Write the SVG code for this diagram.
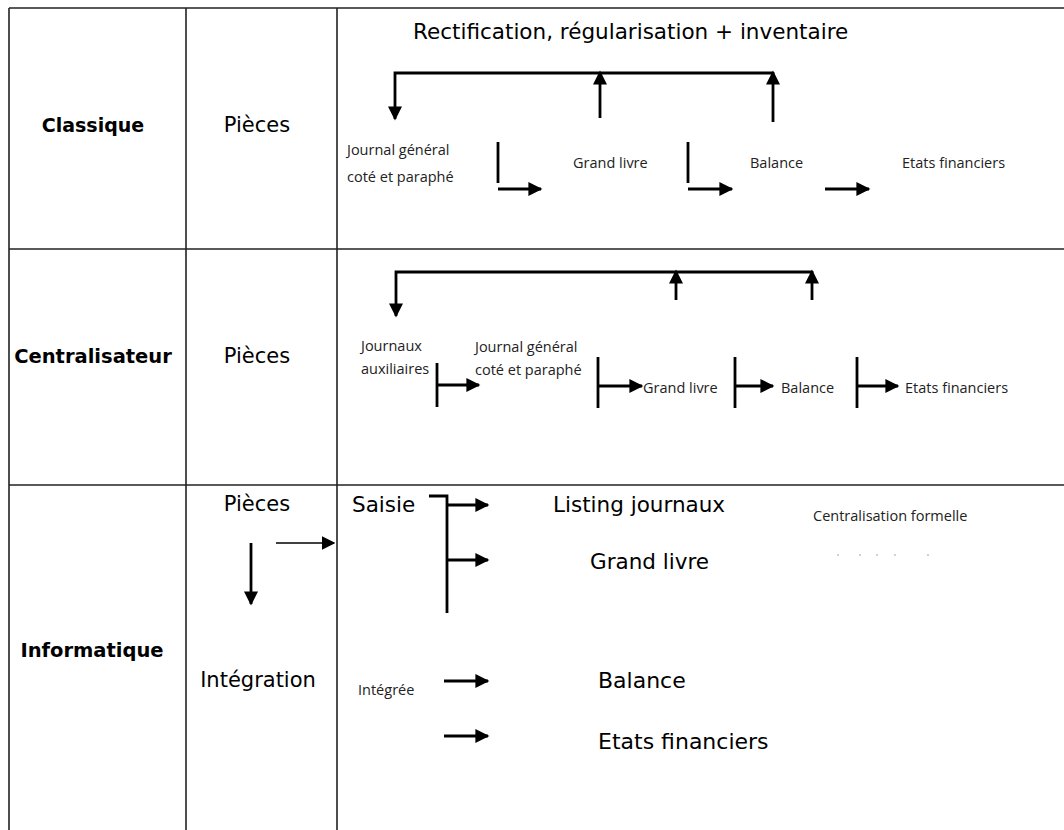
<svg xmlns="http://www.w3.org/2000/svg" width="1064" height="830" viewBox="0 0 1064 830">
<style>
.grid{stroke:#222;stroke-width:1.6;fill:none}
.c{stroke:#000;stroke-width:2.8;fill:none}
.t{stroke:#000;stroke-width:1.6;fill:none}
.cm{font-family:"DejaVu Sans",sans-serif;fill:#000}
.cb{font-family:"DejaVu Sans",sans-serif;font-weight:bold;fill:#000}
.ca{font-family:"Open Sans","Liberation Sans",sans-serif;fill:#222;font-size:14.5px}
</style>
<defs>
<marker id="ah" viewBox="0 0 10 10" refX="9" refY="5" markerWidth="5.2" markerHeight="5" orient="auto" markerUnits="strokeWidth">
<path d="M0,0 L10,5 L0,10 z" fill="#000"/>
</marker>
<marker id="ahs" viewBox="0 0 10 10" refX="9" refY="5" markerWidth="8.5" markerHeight="8.5" orient="auto" markerUnits="strokeWidth">
<path d="M0,0 L10,5 L0,10 z" fill="#000"/>
</marker>
</defs>
<rect width="1064" height="830" fill="#fff"/>
<g id="table" class="grid">
<line x1="9" y1="8" x2="1064" y2="8"/>
<line x1="9" y1="8" x2="9" y2="830"/>
<line x1="186" y1="8" x2="186" y2="830"/>
<line x1="337" y1="8" x2="337" y2="830"/>
<line x1="9" y1="249" x2="1064" y2="249"/>
<line x1="9" y1="485" x2="1064" y2="485"/>
</g>
<g id="row-labels">
<text class="cb" x="93" y="132" font-size="19" text-anchor="middle">Classique</text>
<text class="cb" x="93" y="363" font-size="19.5" text-anchor="middle">Centralisateur</text>
<text class="cb" x="92" y="657" font-size="19.5" text-anchor="middle">Informatique</text>
</g>
<g id="col2">
<text class="cm" x="257" y="132" font-size="21" text-anchor="middle">Pièces</text>
<text class="cm" x="257" y="363" font-size="21" text-anchor="middle">Pièces</text>
<text class="cm" x="257" y="511" font-size="21" text-anchor="middle">Pièces</text>
<text class="cm" x="258" y="687" font-size="21" text-anchor="middle">Intégration</text>
</g>
<g id="n-classique">
<text class="cm" x="413" y="39" font-size="21.5">Rectification, régularisation + inventaire</text>
<text class="ca" x="347" y="155">Journal général</text>
<text class="ca" x="347" y="182">coté et paraphé</text>
<text class="ca" x="573" y="168">Grand livre</text>
<text class="ca" x="750" y="168">Balance</text>
<text class="ca" x="902" y="168">Etats financiers</text>
</g>
<g id="n-centralisateur">
<text class="ca" x="361" y="351">Journaux</text>
<text class="ca" x="361" y="374">auxiliaires</text>
<text class="ca" x="475" y="352">Journal général</text>
<text class="ca" x="475" y="375">coté et paraphé</text>
<text class="ca" x="643" y="393">Grand livre</text>
<text class="ca" x="781" y="393">Balance</text>
<text class="ca" x="905" y="393">Etats financiers</text>
</g>
<g id="n-informatique">
<text class="cm" x="352" y="512" font-size="21.5">Saisie</text>
<text class="cm" x="553" y="512" font-size="21.5">Listing journaux</text>
<text class="cm" x="590" y="569" font-size="21.5">Grand livre</text>
<text class="ca" x="813" y="521">Centralisation formelle</text>
<g fill="#bbb"><circle cx="838" cy="555" r="0.9"/><circle cx="860" cy="555" r="0.9"/><circle cx="877" cy="555" r="0.9"/><circle cx="895" cy="555" r="0.9"/><circle cx="928" cy="555" r="0.9"/></g>
<text class="ca" x="358" y="695">Intégrée</text>
<text class="cm" x="598" y="688" font-size="22">Balance</text>
<text class="cm" x="598" y="749" font-size="22">Etats financiers</text>
</g>
<g id="connectors">
<polyline class="c" points="773,73 395,73 395,119" marker-end="url(#ah)"/>
<line class="c" x1="600" y1="118" x2="600" y2="72" marker-end="url(#ah)"/>
<line class="c" x1="773" y1="122" x2="773" y2="72" marker-end="url(#ah)"/>
<line class="c" x1="498" y1="142" x2="498" y2="183"/>
<line class="c" x1="498" y1="189" x2="541" y2="189" marker-end="url(#ah)"/>
<line class="c" x1="688" y1="142" x2="688" y2="183"/>
<line class="c" x1="688" y1="189" x2="732" y2="189" marker-end="url(#ah)"/>
<line class="c" x1="825" y1="189" x2="869" y2="189" marker-end="url(#ah)"/>
<polyline class="c" points="812,272 396,272 396,316" marker-end="url(#ah)"/>
<line class="c" x1="676" y1="300" x2="676" y2="271" marker-end="url(#ah)"/>
<line class="c" x1="812" y1="300" x2="812" y2="271" marker-end="url(#ah)"/>
<line class="c" x1="437" y1="363" x2="437" y2="407"/>
<line class="c" x1="437" y1="385" x2="479" y2="385" marker-end="url(#ah)"/>
<line class="c" x1="598" y1="357" x2="598" y2="408"/>
<line class="c" x1="598" y1="386" x2="642" y2="386" marker-end="url(#ah)"/>
<line class="c" x1="735" y1="357" x2="735" y2="408"/>
<line class="c" x1="735" y1="386" x2="773" y2="386" marker-end="url(#ah)"/>
<line class="c" x1="857" y1="357" x2="857" y2="408"/>
<line class="c" x1="857" y1="386" x2="898" y2="386" marker-end="url(#ah)"/>
<line class="c" x1="251" y1="543" x2="251" y2="604" marker-end="url(#ah)"/>
<line class="t" x1="276" y1="543" x2="334" y2="543" marker-end="url(#ahs)"/>
<polyline class="c" points="429,496 447,496 447,613"/>
<line class="c" x1="447" y1="505" x2="488" y2="505" marker-end="url(#ah)"/>
<line class="c" x1="447" y1="560" x2="488" y2="560" marker-end="url(#ah)"/>
<line class="c" x1="444" y1="681" x2="488" y2="681" marker-end="url(#ah)"/>
<line class="c" x1="444" y1="736" x2="488" y2="736" marker-end="url(#ah)"/>
</g>
</svg>
